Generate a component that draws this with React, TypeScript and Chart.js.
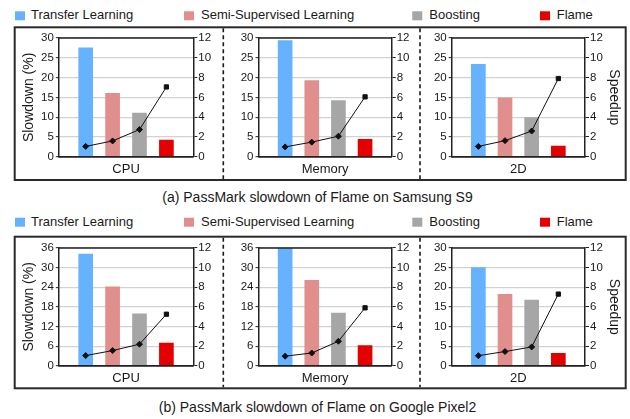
import React, { useEffect, useRef } from 'react';
import { Chart, registerables } from 'chart.js';

Chart.register(...registerables);

// ---------- data ----------
const categories = ['CPU', 'Memory', '2D'];
const methods = ['Transfer Learning', 'Semi-Supervised Learning', 'Boosting', 'Flame'];
const methodColors = ['#66b2ff', '#e08f8c', '#a6a6a6', '#e50000'];

const s9CpuSlowdown = [27.5, 16.0, 11.0, 4.2];
const s9MemorySlowdown = [29.3, 19.2, 14.2, 4.4];
const s9TwoDSlowdown = [23.3, 14.9, 9.9, 2.7];
const s9CpuSpeedup = [1.05, 1.6, 2.75, 7.05];
const s9MemorySpeedup = [1.0, 1.48, 2.08, 6.05];
const s9TwoDSpeedup = [1.05, 1.63, 2.6, 7.9];

const px2CpuSlowdown = [34.1, 24.1, 15.9, 6.9];
const px2MemorySlowdown = [35.9, 26.1, 16.1, 6.2];
const px2TwoDSlowdown = [25.0, 18.2, 16.7, 3.2];
const px2CpuSpeedup = [1.04, 1.55, 2.2, 5.25];
const px2MemorySpeedup = [0.98, 1.3, 2.5, 5.9];
const px2TwoDSpeedup = [1.03, 1.45, 1.92, 7.3];

const s9SlowdownMax = [30, 30, 30];
const s9SlowdownStep = [5, 5, 5];
const px2SlowdownMax = [36, 36, 30];
const px2SlowdownStep = [6, 6, 5];
const speedupMax = 12;
const speedupStep = 2;

const captions = [
  '(a) PassMark slowdown of Flame on Samsung S9',
  '(b) PassMark slowdown of Flame on Google Pixel2',
];
const leftTitle = 'Slowdown (%)';
const rightTitle = 'Speedup';

// ---------- layout ----------
const FONT = "'Liberation Sans', Arial, Helvetica, sans-serif";
const TXT = '#1a1a1a';
const TICK_SIZE = 11.5;

const cols = [
  { x0: 16, x1: 222, plotL: 58.8, plotR: 193.3 },
  { x0: 225, x1: 419, plotL: 258.5, plotR: 391.7 },
  { x0: 422, x1: 624, plotL: 451.7, plotR: 585 },
];
const rows = [
  { cTop: 29, cBottom: 178, plotTop: 37.2, plotBottom: 156.8, xTitleY: 169.2, boxTop: 27.3, boxBottom: 180, legendTop: 11.3, legendBase: 19.3, captionBase: 202 },
  { cTop: 239, cBottom: 386, plotTop: 246.7, plotBottom: 365.8, xTitleY: 378.3, boxTop: 236.7, boxBottom: 388.3, legendTop: 217.7, legendBase: 225.7, captionBase: 411.5 },
];
const legendSquareX = [15, 184, 412.3, 540];
const legendTextX = [31, 201, 429.3, 556.7];
const dashX = [223.3, 420];
const leftTitleX = 29.5;
const rightTitleX = 613.5;

const framePlugin = {
  id: 'frame',
  afterDraw(chart: any) {
    const { ctx, chartArea: a } = chart;
    ctx.save();
    ctx.strokeStyle = '#222';
    ctx.lineWidth = 1.5;
    ctx.beginPath();
    ctx.moveTo(a.left, a.top);
    ctx.lineTo(a.right, a.top);
    ctx.moveTo(a.left, a.bottom);
    ctx.lineTo(a.right, a.bottom);
    ctx.stroke();
    ctx.restore();
  },
};

type PanelProps = {
  row: number;
  col: number;
  label: string;
  slowdown: number[];
  speedup: number[];
  yMax: number;
  yStep: number;
};

function Panel({ row, col, label, slowdown, speedup, yMax, yStep }: PanelProps) {
  const ref = useRef<HTMLCanvasElement | null>(null);
  const c = cols[col];
  const r = rows[row];
  const w = c.x1 - c.x0;
  const h = r.cBottom - r.cTop;

  useEffect(() => {
    if (!ref.current) return;
    const xTitleLH = 13 * 1.2;
    const xPadBottom = Math.max(0, r.cBottom - r.xTitleY - xTitleLH / 2);
    const yTitleLH = 14 * 1.2;
    const leftPad = Math.max(0, leftTitleX - c.x0 - yTitleLH / 2);
    const rightPad = Math.max(0, c.x1 - rightTitleX - yTitleLH / 2);

    const chart = new Chart(ref.current, {
      type: 'bar',
      data: {
        datasets: [
          {
            type: 'line',
            label: 'Speedup',
            data: speedup.map((v, i) => ({ x: i + 1, y: v })),
            yAxisID: 'y1',
            xAxisID: 'x',
            borderColor: '#111',
            borderWidth: 1,
            backgroundColor: '#111',
            pointBackgroundColor: '#111',
            pointBorderColor: '#111',
            pointRadius: 3,
            pointBorderWidth: 1,
            pointStyle: ['rectRot', 'rectRot', 'rectRot', 'rect'] as any,
            tension: 0,
            order: 0,
          } as any,
          {
            type: 'bar',
            label: 'Slowdown',
            data: slowdown.map((v, i) => ({ x: i + 1, y: v })),
            yAxisID: 'y',
            xAxisID: 'x',
            backgroundColor: methodColors,
            borderWidth: 0,
            barThickness: 14,
            order: 1,
          } as any,
        ],
      },
      options: {
        animation: false,
        responsive: false,
        devicePixelRatio: 1,
        layout: { padding: { top: r.plotTop - r.cTop, left: 0, right: 0, bottom: 0 } },
        plugins: { legend: { display: false }, tooltip: { enabled: false } },
        scales: {
          x: {
            type: 'linear',
            min: 0,
            max: 5,
            offset: false,
            ticks: { display: false },
            grid: { display: false, drawTicks: false, offset: false },
            border: { color: '#222', width: 1.5 },
            title: {
              display: true,
              text: label,
              color: TXT,
              font: { size: 13, family: FONT },
              padding: { top: 0, bottom: xPadBottom },
            },
            afterFit: (s: any) => {
              s.height = r.cBottom - r.plotBottom;
            },
          },
          y: {
            type: 'linear',
            position: 'left',
            min: 0,
            max: yMax,
            ticks: { stepSize: yStep, color: TXT, font: { size: TICK_SIZE, family: FONT }, padding: 2 },
            grid: { color: '#d2d2d2', lineWidth: 1.3, tickColor: '#222', tickLength: 3, tickWidth: 1 },
            border: { color: '#222', width: 1.5 },
            title: {
              display: col === 0,
              text: leftTitle,
              color: TXT,
              font: { size: 14, family: FONT },
              padding: { top: leftPad, bottom: 0 },
            },
            afterFit: (s: any) => {
              s.width = c.plotL - c.x0;
            },
          },
          y1: {
            type: 'linear',
            position: 'right',
            min: 0,
            max: speedupMax,
            ticks: { stepSize: speedupStep, color: TXT, font: { size: TICK_SIZE, family: FONT }, padding: 1 },
            grid: { drawOnChartArea: false, tickColor: '#222', tickLength: 4, tickWidth: 1 },
            border: { color: '#222', width: 1.5 },
            title: {
              display: col === 2,
              text: rightTitle,
              color: TXT,
              font: { size: 14, family: FONT },
              padding: { top: rightPad, bottom: 0 },
            },
            afterFit: (s: any) => {
              s.width = c.x1 - c.plotR;
            },
          },
        },
      } as any,
      plugins: [framePlugin],
    });
    return () => chart.destroy();
  }, []);

  return (
    <canvas
      ref={ref}
      width={w}
      height={h}
      style={{ position: 'absolute', left: c.x0, top: r.cTop, width: w, height: h }}
    />
  );
}

export default function App() {
  Chart.defaults.font.family = FONT;
  Chart.defaults.color = TXT;

  const rowData = [
    {
      slow: [s9CpuSlowdown, s9MemorySlowdown, s9TwoDSlowdown],
      speed: [s9CpuSpeedup, s9MemorySpeedup, s9TwoDSpeedup],
      max: s9SlowdownMax,
      step: s9SlowdownStep,
    },
    {
      slow: [px2CpuSlowdown, px2MemorySlowdown, px2TwoDSlowdown],
      speed: [px2CpuSpeedup, px2MemorySpeedup, px2TwoDSpeedup],
      max: px2SlowdownMax,
      step: px2SlowdownStep,
    },
  ];

  return (
    <div style={{ position: 'absolute', left: 0, top: 0, width: 630, height: 419, background: '#fff', overflow: 'hidden' }}>
      <svg width={630} height={419} style={{ position: 'absolute', left: 0, top: 0 }}>
        {rows.map((r, ri) => (
          <g key={ri}>
            <rect
              x={14.7}
              y={r.boxTop}
              width={611}
              height={r.boxBottom - r.boxTop}
              fill="none"
              stroke="#2a2a2a"
              strokeWidth={2}
            />
            {dashX.map((dx, di) => (
              <line
                key={di}
                x1={dx}
                x2={dx}
                y1={r.boxTop + 1}
                y2={r.boxBottom - 1}
                stroke="#1a1a1a"
                strokeWidth={1.6}
                strokeDasharray="4 3"
              />
            ))}
            {methods.map((m, mi) => (
              <g key={mi}>
                <rect x={legendSquareX[mi]} y={r.legendTop} width={10} height={9} fill={methodColors[mi]} />
                <text x={legendTextX[mi]} y={r.legendBase} fontFamily={FONT} fontSize={13} fill={TXT}>
                  {m}
                </text>
              </g>
            ))}
            <text x={317.5} y={r.captionBase} textAnchor="middle" fontFamily={FONT} fontSize={14} fill={TXT}>
              {captions[ri]}
            </text>
          </g>
        ))}
      </svg>
      {rowData.map((rd, ri) =>
        categories.map((cat, ci) => (
          <Panel
            key={`${ri}-${ci}`}
            row={ri}
            col={ci}
            label={cat}
            slowdown={rd.slow[ci]}
            speedup={rd.speed[ci]}
            yMax={rd.max[ci]}
            yStep={rd.step[ci]}
          />
        ))
      )}
    </div>
  );
}
